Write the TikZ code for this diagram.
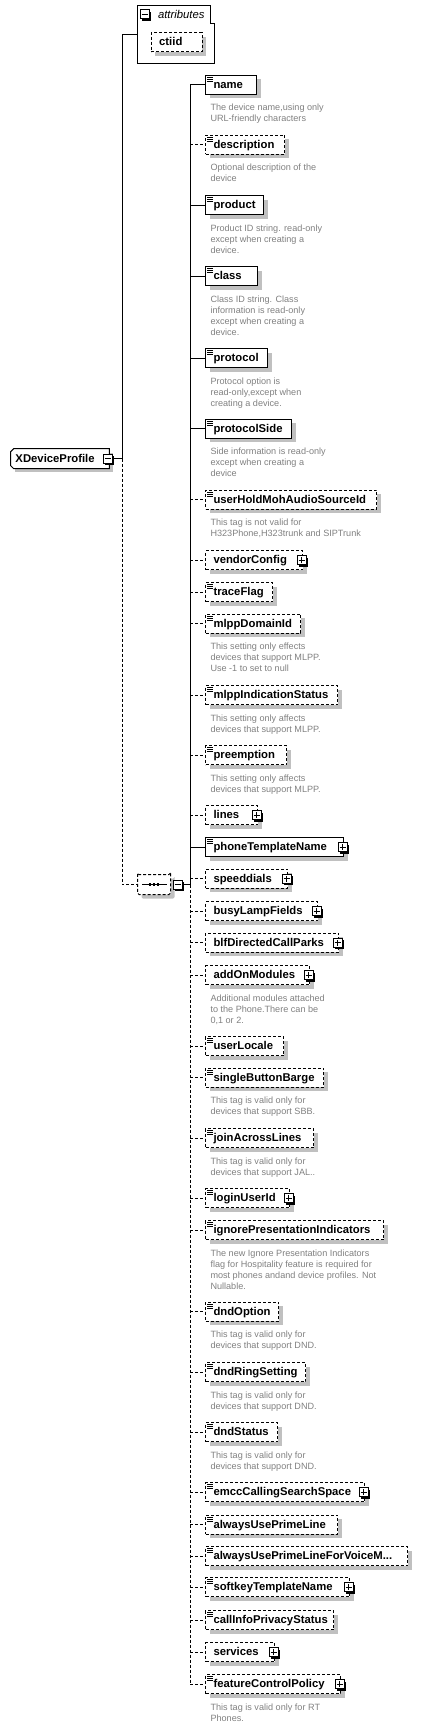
\documentclass[tikz,border=0pt]{standalone}
\usepackage{fontspec}
\setmainfont{Liberation Sans}
\usetikzlibrary{positioning,calc,shapes.misc,shadows}

\definecolor{notegray}{RGB}{128,128,128}
\definecolor{shadegray}{RGB}{192,192,192}

\begin{document}
\begin{tikzpicture}[x=1pt, y=-1pt, line width=1pt,
    every node/.style={inner sep=0pt},
    grayshadow/.style={drop shadow={shadow xshift=4pt, shadow yshift=-4pt, fill=shadegray, opacity=1}},
    elem/.style={draw, fill=white, grayshadow, minimum height=19pt, inner xsep=8pt,
      anchor=west, text width=#1, align=left, text height=7.5pt, text depth=0.5pt,
      font=\bfseries\fontsize{11.3}{13}\selectfont},
    opt/.style={dash pattern=on 3pt off 2pt},
    docicon/.style={path picture={
      \foreach \dy in {2pt,4pt,6pt}
        \draw[solid, line width=0.8pt] ([xshift=1.5pt, yshift=-\dy]path picture bounding box.north west) -- ++(5.5pt,0pt);}},
    btn/.style={draw, solid, fill=white, minimum size=9pt,
      drop shadow={shadow xshift=2pt, shadow yshift=-2pt, fill=black, opacity=1}},
    plusbtn/.style={btn, path picture={
      \draw[solid] ([xshift=-3pt]path picture bounding box.center) -- ([xshift=3pt]path picture bounding box.center)
        ([yshift=-3pt]path picture bounding box.center) -- ([yshift=3pt]path picture bounding box.center);}},
    minusbtn/.style={btn, path picture={
      \draw[solid] ([xshift=-3pt]path picture bounding box.center) -- ([xshift=3pt]path picture bounding box.center);}},
    annot/.style={align=left, text=notegray, font=\fontsize{9.1}{11}\selectfont},
  ]
  \useasboundingbox (0,0) rectangle (421,1727);

  % Root element
  \node[elem=89pt, inner xsep=4.3pt, draw=none] (root) at (10.7,458.7) {XDeviceProfile};
  \draw ([xshift=3pt]root.north west) -- (root.north east) -- (root.south east)
    -- ([xshift=3pt]root.south west) -- ([yshift=3pt]root.south west)
    -- ([yshift=-3pt]root.north west) -- cycle;
  \node[minusbtn, xshift=-1.5pt] (root-btn) at (root.east) {};

  % Attributes group
  \node[minimum width=76.3pt, minimum height=57pt, anchor=north west] (attrs) at (137,5.3) {};
  \draw (attrs.north west) -- ([xshift=-4pt]attrs.north east) -- ++(0pt,-18pt) -- ++(4pt,0pt)
    -- (attrs.south east) -- (attrs.south west) -- cycle;
  \node[minusbtn] (attr-btn) at (144.5,14) {};
  \node[right=8pt of attr-btn, font=\itshape\fontsize{11.3}{13}\selectfont] (attr-lbl) {attributes};
  \node[elem=35pt, opt] (ctiid) at (150.7,42) {ctiid};

  % Sequence compositor
  \node[draw, opt, fill=white, grayshadow, chamfered rectangle, chamfered rectangle xsep=5pt,
    rounded corners=1.5pt, minimum width=33pt, minimum height=20pt, anchor=west] (seq) at (137,884.5) {};
  \draw ([xshift=-11.8pt]seq.center) -- ([xshift=13pt]seq.center);
  \foreach \dx in {-4pt,0pt,4pt}
    \fill ([xshift=\dx]seq.center) +(-1.2pt,-1.2pt) rectangle +(1.2pt,1.2pt);
  \node[minusbtn, right=1.5pt of seq] (seq-btn) {};

  % Children
  \node[elem=35pt, docicon] (name) at (205,84.8) {name};
  \node[annot, below right=9pt and 5pt of name.south west] (name-note) {The device name,using only\\URL-friendly characters};
  \node[elem=63pt, opt, docicon] (desc) at (205,144.7) {description};
  \node[annot, below right=9pt and 5pt of desc.south west] (desc-note) {Optional description of the\\device};
  \node[elem=42pt, docicon] (product) at (205,205) {product};
  \node[annot, below right=9pt and 5pt of product.south west] (product-note) {Product ID string. read-only\\except when creating a\\device.};
  \node[elem=36pt, docicon] (class) at (205,276) {class};
  \node[annot, below right=9pt and 5pt of class.south west] (class-note) {Class ID string. Class\\information is read-only\\except when creating a\\device.};
  \node[elem=46pt, docicon] (protocol) at (205,358) {protocol};
  \node[annot, below right=9pt and 5pt of protocol.south west] (protocol-note) {Protocol option is\\read-only,except when\\creating a device.};
  \node[elem=70pt, docicon] (protside) at (205,428.8) {protocolSide};
  \node[annot, below right=9pt and 5pt of protside.south west] (protside-note) {Side information is read-only\\except when creating a\\device};
  \node[elem=155pt, opt, docicon] (holdmoh) at (205,499.7) {userHoldMohAudioSourceId};
  \node[annot, below right=9pt and 5pt of holdmoh.south west] (holdmoh-note) {This tag is not valid for\\H323Phone,H323trunk and SIPTrunk};
  \node[elem=81pt, opt] (vendor) at (205,560.3) {vendorConfig};
  \node[plusbtn, xshift=-1.5pt] (vendor-btn) at (vendor.east) {};
  \node[elem=51pt, opt, docicon] (trace) at (205,592) {traceFlag};
  \node[elem=79pt, opt, docicon] (domain) at (205,623.8) {mlppDomainId};
  \node[annot, below right=9pt and 5pt of domain.south west] (domain-note) {This setting only effects\\devices that support MLPP.\\Use -1 to set to null};
  \node[elem=116pt, opt, docicon] (indic) at (205,695.2) {mlppIndicationStatus};
  \node[annot, below right=9pt and 5pt of indic.south west] (indic-note) {This setting only affects\\devices that support MLPP.};
  \node[elem=65pt, opt, docicon] (preempt) at (205,755.3) {preemption};
  \node[annot, below right=9pt and 5pt of preempt.south west] (preempt-note) {This setting only affects\\devices that support MLPP.};
  \node[elem=36pt, opt] (lines) at (205,815) {lines};
  \node[plusbtn, xshift=-1.5pt] (lines-btn) at (lines.east) {};
  \node[elem=122pt, docicon] (phonetpl) at (205,847) {phoneTemplateName};
  \node[plusbtn, xshift=-1.5pt] (phonetpl-btn) at (phonetpl.east) {};
  \node[elem=66pt, opt] (speed) at (205,878.7) {speeddials};
  \node[plusbtn, xshift=-1.5pt] (speed-btn) at (speed.east) {};
  \node[elem=96pt, opt] (blf) at (205,911.2) {busyLampFields};
  \node[plusbtn, xshift=-1.5pt] (blf-btn) at (blf.east) {};
  \node[elem=117pt, opt] (blfpark) at (205,942.8) {blfDirectedCallParks};
  \node[plusbtn, xshift=-1.5pt] (blfpark-btn) at (blfpark.east) {};
  \node[elem=88pt, opt] (addon) at (205,975.3) {addOnModules};
  \node[plusbtn, xshift=-1.5pt] (addon-btn) at (addon.east) {};
  \node[annot, below right=9pt and 5pt of addon.south west] (addon-note) {Additional modules attached\\to the Phone.There can be\\0,1 or 2.};
  \node[elem=62pt, opt, docicon] (locale) at (205,1046.2) {userLocale};
  \node[elem=102pt, opt, docicon] (sbb) at (205,1077.8) {singleButtonBarge};
  \node[annot, below right=9pt and 5pt of sbb.south west] (sbb-note) {This tag is valid only for\\devices that support SBB.};
  \node[elem=92pt, opt, docicon] (jal) at (205,1138) {joinAcrossLines};
  \node[annot, below right=9pt and 5pt of jal.south west] (jal-note) {This tag is valid only for\\devices that support JAL..};
  \node[elem=68pt, opt, docicon] (login) at (205,1198.2) {loginUserId};
  \node[plusbtn, xshift=-1.5pt] (login-btn) at (login.east) {};
  \node[elem=162pt, opt, docicon] (ignore) at (205,1230) {ignorePresentationIndicators};
  \node[annot, below right=9pt and 5pt of ignore.south west] (ignore-note) {The new Ignore Presentation Indicators\\flag for Hospitality feature is required for\\most phones andand device profiles. Not\\Nullable.};
  \node[elem=57pt, opt, docicon] (dndopt) at (205,1311.8) {dndOption};
  \node[annot, below right=9pt and 5pt of dndopt.south west] (dndopt-note) {This tag is valid only for\\devices that support DND.};
  \node[elem=84pt, opt, docicon] (dndring) at (205,1372.2) {dndRingSetting};
  \node[annot, below right=9pt and 5pt of dndring.south west] (dndring-note) {This tag is valid only for\\devices that support DND.};
  \node[elem=56pt, opt, docicon] (dndstat) at (205,1432) {dndStatus};
  \node[annot, below right=9pt and 5pt of dndstat.south west] (dndstat-note) {This tag is valid only for\\devices that support DND.};
  \node[elem=143pt, opt, docicon] (emcc) at (205,1492.2) {emccCallingSearchSpace};
  \node[plusbtn, xshift=-1.5pt] (emcc-btn) at (emcc.east) {};
  \node[elem=116pt, opt, docicon] (prime) at (205,1524.5) {alwaysUsePrimeLine};
  \node[elem=186pt, opt, docicon] (primevm) at (205,1556.2) {alwaysUsePrimeLineForVoiceM...};
  \node[elem=128pt, opt, docicon] (softkey) at (205,1587.2) {softkeyTemplateName};
  \node[plusbtn, xshift=-1.5pt] (softkey-btn) at (softkey.east) {};
  \node[elem=112pt, opt, docicon] (privacy) at (205,1620) {callInfoPrivacyStatus};
  \node[elem=53pt, opt] (services) at (205,1652.2) {services};
  \node[plusbtn, xshift=-1.5pt] (services-btn) at (services.east) {};
  \node[elem=119pt, opt, docicon] (fcp) at (205,1684.2) {featureControlPolicy};
  \node[plusbtn, xshift=-1.5pt] (fcp-btn) at (fcp.east) {};
  \node[annot, below right=9pt and 5pt of fcp.south west] (fcp-note) {This tag is valid only for RT\\Phones.};

  % Connectors
  \coordinate (trunk) at (122,458.7);
  \coordinate (bus) at (190,884.5);
  \draw (root-btn.east) -- (trunk);
  \draw (trunk) |- (attrs.west);
  \draw[opt] (trunk) |- (seq.west);
  \draw (seq-btn.east) -- (bus);
  \draw (bus) -- (bus |- name.west);
  \draw[opt] (bus) |- (fcp.west);
  \foreach \n in {name,product,class,protocol,protside,phonetpl}
    \draw (bus |- \n.west) -- (\n.west);
  \foreach \n in {desc,holdmoh,vendor,trace,domain,indic,preempt,lines,speed,blf,blfpark,addon,
      locale,sbb,jal,login,ignore,dndopt,dndring,dndstat,emcc,prime,primevm,softkey,privacy,services}
    \draw[opt] (bus |- \n.west) -- (\n.west);
\end{tikzpicture}
\end{document}
